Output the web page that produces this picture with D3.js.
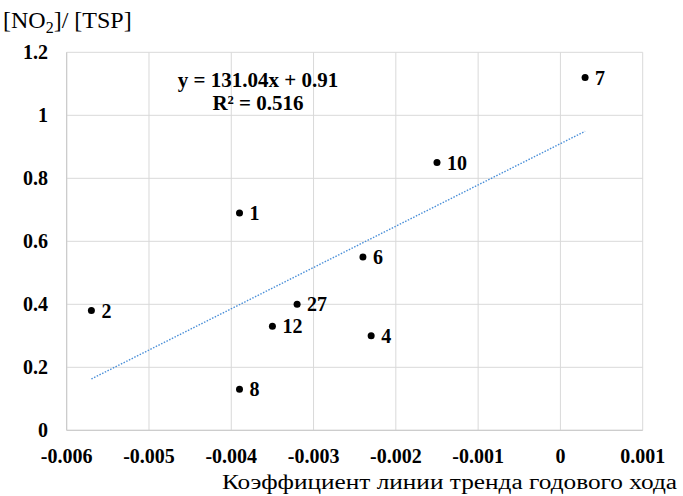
<!DOCTYPE html>
<html>
<head>
<meta charset="utf-8">
<script src="https://cdn.jsdelivr.net/npm/d3@7"></script>
<style>
  body { margin: 0; background: #fff; }
  svg { font-family: "Liberation Serif", "Times New Roman", serif; }
</style>
</head>
<body>
<svg width="683" height="496"></svg>
<script>
// station numbers, trend coefficient (x) and [NO2]/[TSP] ratio (y)
var labels = ["1", "2", "27", "12", "8", "4", "6", "10", "7"];
var xVals = [-0.0039, -0.0057, -0.0032, -0.0035, -0.0039, -0.0023, -0.0024, -0.0015, 0.0003];
var yVals = [0.69, 0.38, 0.40, 0.33, 0.13, 0.30, 0.55, 0.85, 1.12];

var xTicks = [-0.006, -0.005, -0.004, -0.003, -0.002, -0.001, 0, 0.001];
var yTicks = [0, 0.2, 0.4, 0.6, 0.8, 1, 1.2];

// linear trend given on the chart
var slope = 131.04, intercept = 0.91;
var eqText = "y = 131.04x + 0.91";
var r2Text = "R² = 0.516";

var svg = d3.select("svg");

var x = d3.scaleLinear().domain([-0.006, 0.001]).range([66.7, 642.7]);
var y = d3.scaleLinear().domain([0, 1.2]).range([430.3, 52.3]);

// grid
svg.append("g")
  .selectAll("line")
  .data(xTicks)
  .enter().append("line")
  .attr("x1", function(d){ return x(d); })
  .attr("x2", function(d){ return x(d); })
  .attr("y1", y(0)).attr("y2", y(1.2))
  .style("stroke", "#d9d9d9").style("stroke-width", 1);

svg.append("g")
  .selectAll("line")
  .data(yTicks)
  .enter().append("line")
  .attr("x1", x(-0.006)).attr("x2", x(0.001))
  .attr("y1", function(d){ return y(d); })
  .attr("y2", function(d){ return y(d); })
  .style("stroke", "#d9d9d9").style("stroke-width", 1);

// axis lines (a bit darker)
svg.append("line")
  .attr("x1", x(-0.006)).attr("x2", x(-0.006))
  .attr("y1", y(0)).attr("y2", y(1.2))
  .style("stroke", "#c8c8c8");
svg.append("line")
  .attr("x1", x(-0.006)).attr("x2", x(0.001))
  .attr("y1", y(0)).attr("y2", y(0))
  .style("stroke", "#c8c8c8");

// tick labels
svg.append("g")
  .selectAll("text")
  .data(yTicks)
  .enter().append("text")
  .attr("x", 48)
  .attr("y", function(d){ return y(d); })
  .attr("dy", "0.35em")
  .attr("text-anchor", "end")
  .style("font-size", "20px").style("font-weight", "bold")
  .text(function(d){ return d3.format("")(d); });

svg.append("g")
  .selectAll("text")
  .data(xTicks)
  .enter().append("text")
  .attr("x", function(d){ return x(d); })
  .attr("y", 463)
  .attr("text-anchor", "middle")
  .style("font-size", "20px").style("font-weight", "bold")
  .text(function(d){ return d === 0 ? "0" : d3.format(".3f")(d).replace("−", "-"); });

// trend line over the data range
var xmin = d3.min(xVals), xmax = d3.max(xVals);
svg.append("line")
  .attr("x1", x(xmin)).attr("y1", y(slope * xmin + intercept))
  .attr("x2", x(xmax)).attr("y2", y(slope * xmax + intercept))
  .style("stroke", "#4a8fd8")
  .style("stroke-width", 1.4)
  .style("stroke-dasharray", "1.5,1.5");

// points
var pts = svg.append("g")
  .selectAll("g")
  .data(xVals)
  .enter().append("g");

pts.append("circle")
  .attr("cx", function(d){ return x(d); })
  .attr("cy", function(d, i){ return y(yVals[i]); })
  .attr("r", 3.5)
  .style("fill", "#000");

pts.append("text")
  .attr("x", function(d){ return x(d) + 10; })
  .attr("y", function(d, i){ return y(yVals[i]); })
  .attr("dy", "0.35em")
  .style("font-size", "20px").style("font-weight", "bold")
  .text(function(d, i){ return labels[i]; });

// equation
svg.append("text")
  .attr("x", 258).attr("y", 87)
  .attr("text-anchor", "middle")
  .style("font-size", "21px").style("font-weight", "bold")
  .text(eqText);
svg.append("text")
  .attr("x", 258).attr("y", 110)
  .attr("text-anchor", "middle")
  .style("font-size", "21px").style("font-weight", "bold")
  .text(r2Text);

// axis titles
var yt = svg.append("text")
  .attr("x", 3).attr("y", 28)
  .style("font-size", "24px");
yt.append("tspan").text("[NO");
yt.append("tspan").attr("dy", 5).style("font-size", "16px").text("2");
yt.append("tspan").attr("dy", -5).text("]/ [TSP]");

svg.append("text")
  .attr("x", 222).attr("y", 489)
  .attr("textLength", 455)
  .attr("lengthAdjust", "spacingAndGlyphs")
  .style("font-size", "20px")
  .text("Коэффициент линии тренда годового хода");
</script>
</body>
</html>
